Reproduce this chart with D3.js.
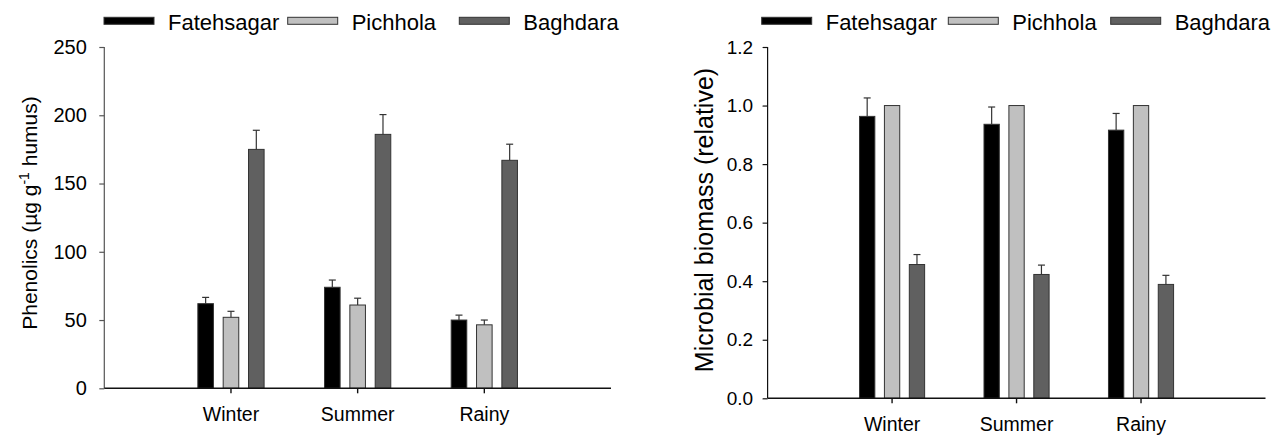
<!DOCTYPE html>
<html>
<head>
<meta charset="utf-8">
<script src="https://cdn.jsdelivr.net/npm/d3@7"></script>
<style>
  body { margin: 0; background: #fff; }
  svg { display: block; font-family: "Liberation Sans", Arial, sans-serif; }
</style>
</head>
<body>
<svg id="chart" width="1281" height="436"></svg>
<script>
// data
var seasons = ["Winter", "Summer", "Rainy"];
var sites = ["Fatehsagar", "Pichhola", "Baghdara"];
var siteColors = ["#000000", "#c0c0c0", "#606060"];

// phenolics, one array per site, values in season order
var phenolicsMean = [
  [62, 74, 50],
  [52, 61, 46.5],
  [175, 186, 167]
];
var phenolicsErr = [
  [4.6, 5.3, 3.6],
  [4.4, 5.0, 3.5],
  [14.0, 14.5, 11.8]
];
var phenolicsTicks = [0, 50, 100, 150, 200, 250];

// microbial biomass (relative to Pichhola)
var biomassMean = [
  [0.963, 0.936, 0.916],
  [1.0, 1.0, 1.0],
  [0.457, 0.423, 0.389]
];
var biomassErr = [
  [0.063, 0.059, 0.057],
  [0, 0, 0],
  [0.034, 0.032, 0.031]
];
var biomassTicks = [0, 0.2, 0.4, 0.6, 0.8, 1.0, 1.2];

var svg = d3.select("#chart");

// panel layout
var panels = [
  {
    mean: phenolicsMean, err: phenolicsErr, ticks: phenolicsTicks, fmt: d3.format("d"),
    x0: 104.3, x1: 611, y0: 388.3, y1: 47, ymax: 250,
    yTickFont: 20, yTickPad: 12.5, yAxisColor: "#555",
    legendX: [104, 287.7, 459.3],
    label: { x: 36.5, y: 213, size: 21 }
  },
  {
    mean: biomassMean, err: biomassErr, ticks: biomassTicks, fmt: d3.format(".1f"),
    x0: 767.6, x1: 1265.5, y0: 398.3, y1: 47, ymax: 1.2,
    yTickFont: 19, yTickPad: 9.5, yAxisColor: "#111",
    legendX: [761.7, 948.3, 1110.7],
    label: { x: 713, y: 220, size: 25, text: "Microbial biomass (relative)" }
  }
];

panels.forEach(function(p, pi) {
  var g = svg.append("g");

  var x = d3.scaleBand()
    .domain(seasons)
    .range([p.x0, p.x1])
    .paddingInner(0)
    .paddingOuter(0.5);

  var step = x.step() * 0.2;
  var xs = d3.scaleBand()
    .domain(sites)
    .range([-1.5 * step, 1.5 * step])
    .paddingInner(0.385)
    .paddingOuter(0.1925);

  var y = d3.scaleLinear()
    .domain([0, p.ymax])
    .range([p.y0, p.y1]);

  // bars
  sites.forEach(function(site, si) {
    var rows = seasons.map(function(s, ci) {
      return { season: s, v: p.mean[si][ci], e: p.err[si][ci] };
    });

    g.selectAll(".bar" + si)
      .data(rows)
      .enter().append("rect")
      .attr("x", function(d) { return x(d.season) + x.bandwidth() / 2 + xs(site); })
      .attr("y", function(d) { return y(d.v); })
      .attr("width", xs.bandwidth())
      .attr("height", function(d) { return y(0) - y(d.v); })
      .attr("fill", siteColors[si])
      .attr("stroke", "#333")
      .attr("stroke-width", 1);

    // error bars (upper only)
    var eb = g.selectAll(".err" + si)
      .data(rows.filter(function(d) { return d.e > 0; }))
      .enter().append("g")
      .attr("stroke", "#333")
      .attr("stroke-width", 1.2);
    var cx = function(d) { return x(d.season) + x.bandwidth() / 2 + xs(site) + xs.bandwidth() / 2; };
    eb.append("line")
      .attr("x1", cx).attr("x2", cx)
      .attr("y1", function(d) { return y(d.v); })
      .attr("y2", function(d) { return y(d.v + d.e); });
    eb.append("line")
      .attr("x1", function(d) { return cx(d) - 3.5; })
      .attr("x2", function(d) { return cx(d) + 3.5; })
      .attr("y1", function(d) { return y(d.v + d.e); })
      .attr("y2", function(d) { return y(d.v + d.e); });
  });

  // y axis
  var yAxis = g.append("g")
    .attr("transform", "translate(" + p.x0 + ",0)")
    .call(d3.axisLeft(y).tickValues(p.ticks).tickFormat(p.fmt).tickSize(5).tickPadding(p.yTickPad).tickSizeOuter(0));
  yAxis.selectAll("line, path").attr("stroke", p.yAxisColor).attr("stroke-width", 1.2);
  yAxis.selectAll("text").attr("fill", "#000").style("font-size", p.yTickFont + "px");
  yAxis.select(".domain").attr("d", "M0," + y(0) + "V" + y(p.ymax));

  // x axis
  var xAxis = g.append("g")
    .attr("transform", "translate(0," + p.y0 + ")")
    .call(d3.axisBottom(x).tickSize(5).tickPadding(14).tickSizeOuter(0));
  xAxis.selectAll("line, path").attr("stroke", "#111").attr("stroke-width", 1.4);
  xAxis.selectAll("text").attr("fill", "#000").style("font-size", "19.5px");
  xAxis.select(".domain").attr("d", "M" + p.x0 + ",0H" + p.x1);

  // legend
  sites.forEach(function(site, si) {
    var lx = p.legendX[si];
    g.append("rect")
      .attr("x", lx).attr("y", 17.3)
      .attr("width", 50).attr("height", 7)
      .attr("fill", siteColors[si])
      .attr("stroke", "#333").attr("stroke-width", 1);
    g.append("text")
      .attr("x", lx + 64).attr("y", 30)
      .style("font-size", "22px")
      .text(site);
  });

  // y label
  var lab = g.append("text")
    .attr("transform", "translate(" + p.label.x + "," + p.label.y + ") rotate(-90)")
    .attr("text-anchor", "middle")
    .style("font-size", p.label.size + "px");
  if (pi === 0) {
    lab.append("tspan").text("Phenolics (\u00b5g g");
    lab.append("tspan").attr("dy", -8).style("font-size", "14px").text("-1");
    lab.append("tspan").attr("dy", 8).text(" humus)");
  } else {
    lab.text(p.label.text);
  }
});
</script>
</body>
</html>
